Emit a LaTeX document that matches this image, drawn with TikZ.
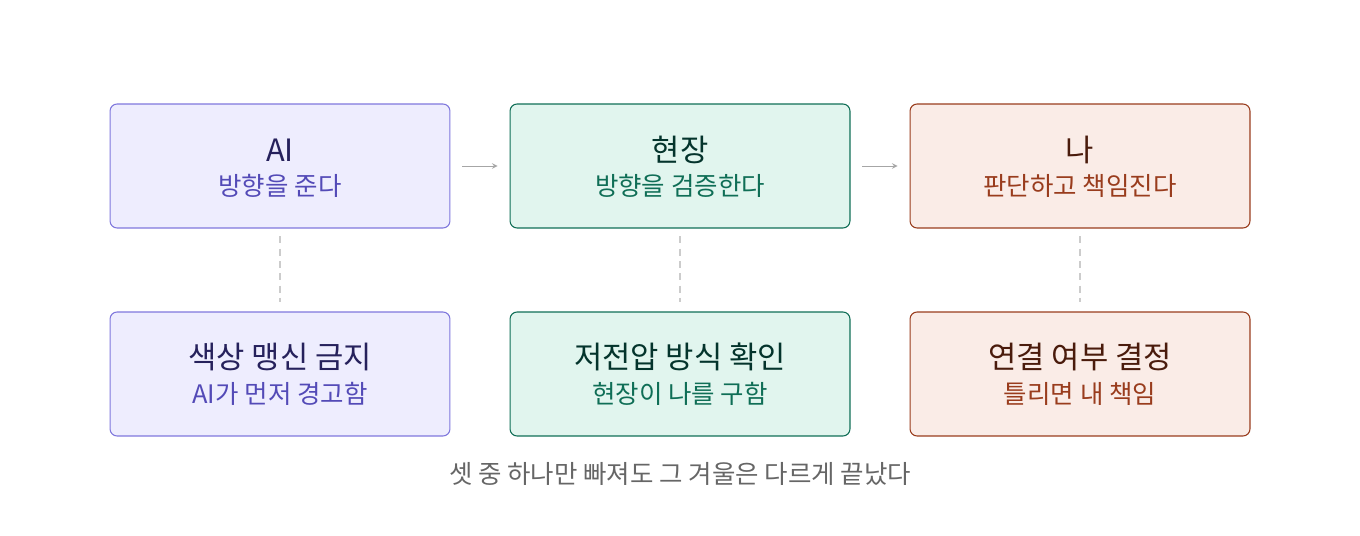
\documentclass[tikz,border=0pt]{standalone}
\usepackage{fontspec}
\setmainfont{Noto Sans CJK KR}
\usetikzlibrary{positioning}
\definecolor{pfill}{HTML}{EEEDFE}\definecolor{pdraw}{HTML}{7F77DD}
\definecolor{ptit}{HTML}{26215C}\definecolor{psub}{HTML}{534AB7}
\definecolor{gfill}{HTML}{E1F5EE}\definecolor{gdraw}{HTML}{0F6E56}
\definecolor{gtit}{HTML}{04342C}\definecolor{gsub}{HTML}{0F6E56}
\definecolor{ofill}{HTML}{FAECE7}\definecolor{odraw}{HTML}{993C1D}
\definecolor{otit}{HTML}{4A1B0C}\definecolor{osub}{HTML}{993C1D}
\begin{document}
\begin{tikzpicture}
        [x=0.02cm, y=-0.02cm,
        box/.style={draw, rounded corners=4pt, minimum width=6.8cm, minimum height=2.48cm, line width=0.6pt},
        tit/.style={font=\fontsize{17.5}{20}\selectfont},
        sub/.style={font=\fontsize{14.5}{17}\selectfont},
        flow/.style={->, gray!70, line width=0.4pt, >=stealth},
        link/.style={dash pattern=on 4pt off 3pt, gray!40, line width=0.8pt},
        inner sep=0pt]

        \useasboundingbox (0,0) rectangle (1360,536);

        % top row
        \node[box, fill=pfill, draw=pdraw] (ai) at (280,166) {};
        \node[box, fill=gfill, draw=gdraw] (field) at (680,166) {};
        \node[box, fill=ofill, draw=odraw] (me) at (1080,166) {};
        % bottom row
        \node[box, fill=pfill, draw=pdraw] (aib) at (280,374) {};
        \node[box, fill=gfill, draw=gdraw] (fieldb) at (680,374) {};
        \node[box, fill=ofill, draw=odraw] (meb) at (1080,374) {};

        \node[tit, text=ptit] at (280,150) {AI};
        \node[sub, text=psub] at (280,186) {방향을 준다};
        \node[tit, text=gtit] at (680,150) {현장};
        \node[sub, text=gsub] at (680,186) {방향을 검증한다};
        \node[tit, text=otit] at (1080,150) {나};
        \node[sub, text=osub] at (1080,186) {판단하고 책임진다};

        \node[tit, text=ptit] at (280,357) {색상 맹신 금지};
        \node[sub, text=psub] at (280,394) {AI가 먼저 경고함};
        \node[tit, text=gtit] at (680,357) {저전압 방식 확인};
        \node[sub, text=gsub] at (680,394) {현장이 나를 구함};
        \node[tit, text=otit] at (1080,357) {연결 여부 결정};
        \node[sub, text=osub] at (1080,394) {틀리면 내 책임};

        \draw[flow] ([xshift=6.8pt]ai.east) -- ([xshift=-6.8pt]field.west);
        \draw[flow] ([xshift=6.8pt]field.east) -- ([xshift=-6.8pt]me.west);

        \foreach \a/\b in {ai/aib, field/fieldb, me/meb}
            \draw[link] ([yshift=-4.5pt]\a.south) -- ([yshift=5.5pt]\b.north);

        \node[sub, text=black!60] (note) at (680,474) {셋 중 하나만 빠져도 그 겨울은 다르게 끝났다};
    \end{tikzpicture}
\end{document}
